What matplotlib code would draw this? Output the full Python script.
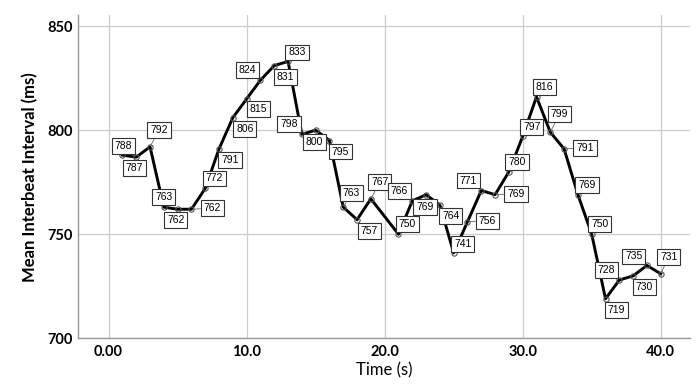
import numpy as np
import matplotlib.pyplot as plt

# mean interbeat interval per second (no sample at t=20)
time_s = [1, 2, 3, 4, 5, 6, 7, 8, 9, 10, 11, 12, 13, 14, 15, 16, 17, 18, 19,
          21, 22, 23, 24, 25, 26, 27, 28, 29, 30, 31, 32, 33, 34, 35, 36, 37, 38, 39, 40]
ibi_ms = [788, 787, 792, 763, 762, 762, 772, 791, 806, 815, 824, 831, 833, 798, 800, 795, 763, 757, 767,
          750, 766, 769, 764, 741, 756, 771, 769, 780, 797, 816, 799, 791, 769, 750, 719, 728, 730, 735, 731]
xticks = [0, 10, 20, 30, 40]
xtick_labels = ['0.00', '10.0', '20.0', '30.0', '40.0']
yticks = [700, 750, 800, 850]

# where each value box sits relative to its point (pixels), and which get a leader line
label_offsets = [(1, 9), (-2, -11), (9, 17), (0, 10), (-2, -11), (21, 1), (9, 10), (11, -11), (12, -11),
                 (12, -10), (-13, 10), (11, -11), (9, 9), (-13, 10), (-1, -12), (11, -11), (8, 14),
                 (12, -11), (9, 17), (9, 10), (-13, 10), (-1, -12), (11, -11), (9, 9), (20, 1),
                 (-13, 10), (21, 1), (8, 10), (9, 9), (8, 10), (9, 18), (21, 1), (9, 10), (8, 10),
                 (11, -11), (-13, 10), (11, -11), (-13, 9), (8, 17)]
leaders = {2, 5, 16, 18, 24, 26, 30, 31, 38}

fig = plt.figure(figsize=(7, 3.87), dpi=100)
ax = fig.add_axes([0.1114, 0.1258, 0.8743, 0.8354])

ax.plot(time_s, ibi_ms, color='black', lw=2.1, zorder=3)
ax.plot(time_s, ibi_ms, ls='none', marker='o', ms=3.8, mfc='none', mec='#555555', mew=0.8, zorder=4)

for i, (t, v) in enumerate(zip(time_s, ibi_ms)):
    dx, dy = label_offsets[i]
    kw = {}
    if i in leaders:
        kw['arrowprops'] = dict(arrowstyle='-', color='#666666', lw=0.6, shrinkA=0, shrinkB=1)
    ax.annotate(str(v), (t, v), xytext=(dx, dy), textcoords='offset pixels',
                ha='center', va='center', fontsize=7.5, family='Liberation Sans',
                bbox=dict(boxstyle='square,pad=0.28', fc='white', ec='#333333', lw=0.8),
                zorder=5, **kw)

ax.set_xlim(-2.22, 42.12)
ax.set_ylim(700, 855.3)
ax.set_xticks(xticks)
ax.set_xticklabels(xtick_labels)
ax.set_yticks(yticks)
ax.tick_params(length=0, labelsize=10.5)
ax.tick_params(axis='x', pad=5)
ax.tick_params(axis='y', pad=4)
for lab in ax.get_xticklabels() + ax.get_yticklabels():
    lab.set_fontfamily('Lato')
    lab.set_fontweight('bold')

ax.grid(True, color='#cccccc', lw=0.9)
ax.set_axisbelow(True)
for s in ['top', 'right']:
    ax.spines[s].set_visible(False)
for s in ['left', 'bottom']:
    ax.spines[s].set_color('#999999')
    ax.spines[s].set_linewidth(1.0)

ax.set_xlabel('Time (s)', family='Lato', fontsize=12, labelpad=2)
ax.set_ylabel('Mean Interbeat Interval (ms)', family='Lato', fontweight='bold', fontsize=12, labelpad=6)

fig.savefig('out.png', dpi=100)
